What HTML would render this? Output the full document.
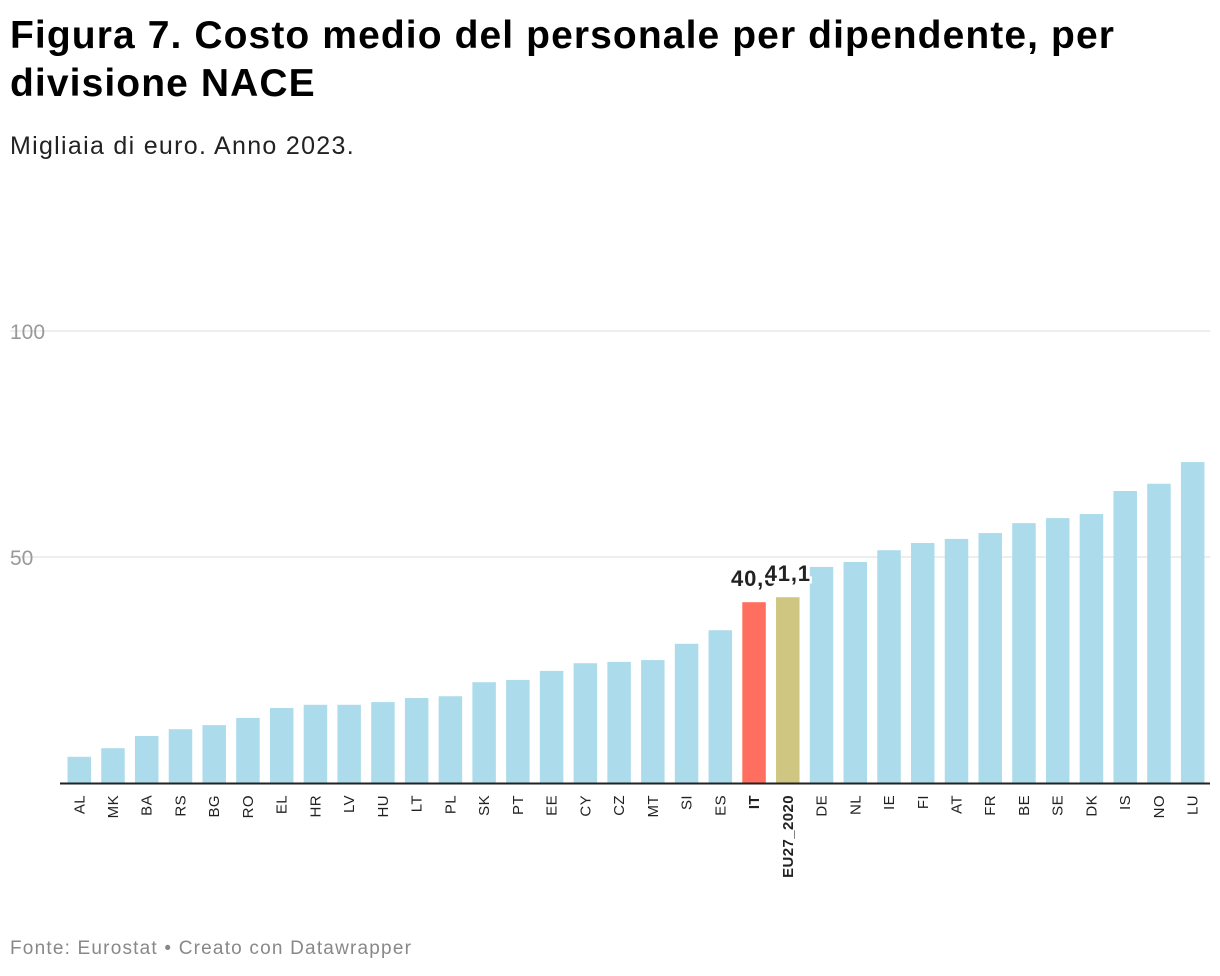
<!DOCTYPE html>
<html><head><meta charset="utf-8"><style>
body{margin:0;background:#fff;font-family:"Liberation Sans",Arial,sans-serif;}
#t{position:absolute;left:10px;top:12px;font-size:39px;font-weight:bold;line-height:48px;color:#000;width:1150px;letter-spacing:1.1px}
#s{position:absolute;left:10px;top:132px;font-size:25px;color:#222;letter-spacing:1.3px}
#f{position:absolute;left:10px;top:938px;font-size:19px;color:#888;letter-spacing:1.2px}
svg{position:absolute;left:0;top:0}
</style></head><body>
<div id="t">Figura 7. Costo medio del personale per dipendente, per divisione NACE</div>
<div id="s">Migliaia di euro. Anno 2023.</div>
<div id="f">Fonte: Eurostat • Creato con Datawrapper</div>
<svg id="c" width="1220" height="976"></svg>
<script>
const categories=["AL","MK","BA","RS","BG","RO","EL","HR","LV","HU","LT","PL","SK","PT","EE","CY","CZ","MT","SI","ES","IT","EU27_2020","DE","NL","IE","FI","AT","FR","BE","SE","DK","IS","NO","LU"];
const values=[5.8,7.7,10.4,11.9,12.8,14.4,16.6,17.3,17.3,17.9,18.8,19.2,22.3,22.8,24.8,26.5,26.8,27.2,30.8,33.8,40.0,41.1,47.8,48.9,51.5,53.1,54.0,55.3,57.5,58.6,59.5,64.6,66.2,71.0];
const yTicks=[50,100];
const labels=["40,0","41,1"];
const NS="http://www.w3.org/2000/svg",svg=document.getElementById('c');
const y=v=>783-v*4.52;
const x=i=>67.5+i*33.74;
const bw=23.5;
function mk(t,a){const e=document.createElementNS(NS,t);for(const k in a)e.setAttribute(k,a[k]);svg.appendChild(e);return e;}
yTicks.forEach(v=>{
 const l=mk('line',{x1:10,x2:1210,y1:y(v),y2:y(v),stroke:'#ddd','stroke-width':1});
 
 
 const t=mk('text',{x:10,y:y(v)+8,'font-size':21,fill:'#999'});t.textContent=v;
 
 
});
categories.forEach((c,i)=>{
 const col=c==='IT'?'#ff6e5f':c==='EU27_2020'?'#cfc781':'#acdcec';
 const r=mk('rect',{x:x(i),y:y(values[i]),width:bw,height:783-y(values[i]),fill:col});
 
 
 const cx=x(i)+bw/2+5;
 const t=mk('text',{x:cx,y:795,transform:`rotate(-90 ${cx} 795)`,'text-anchor':'end','font-size':15,fill:'#222','letter-spacing':0.4,'font-weight':(c==='IT'||c==='EU27_2020')?'bold':'normal'});
 t.textContent=c;
 
 
});
const ax=mk('line',{x1:60,x2:1210,y1:783.5,y2:783.5,stroke:'#222','stroke-width':2});


[20,21].forEach((i,k)=>{
 const cx=x(i)+bw/2;
 const t=mk('text',{x:cx,y:y(values[i])-16,'text-anchor':'middle','font-size':22,'font-weight':'bold',fill:'#222','letter-spacing':0.8,stroke:'#fff','stroke-width':k?5:0,'paint-order':'stroke'});
 t.textContent=labels[k];
 
 
});
</script>
</body></html>
